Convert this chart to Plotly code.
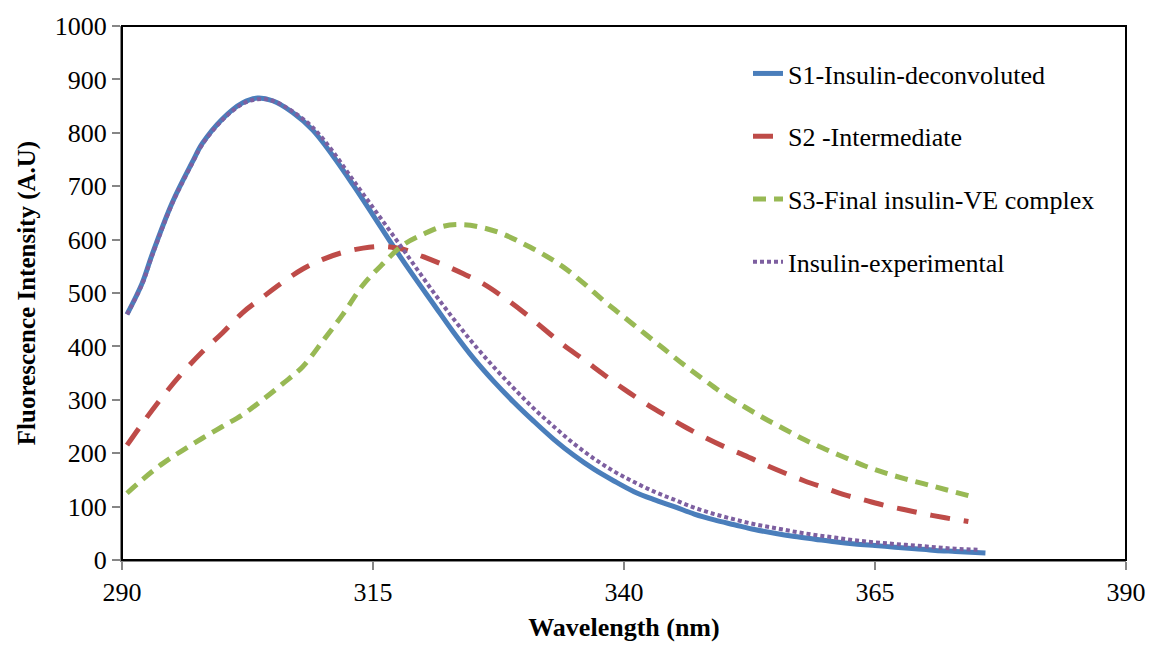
import plotly.graph_objects as go

# S1 - Insulin deconvoluted
s1_x = [290.5, 292, 293, 295, 297, 298, 300, 302, 303.5, 305, 307, 309, 311, 313, 315, 317, 319, 321, 323, 325,
        327, 329, 331, 333, 335, 337, 339, 341, 343, 345, 347, 349, 351, 353, 355, 357, 359, 361, 363, 365,
        367, 369, 371, 373, 376]
s1_y = [460, 518, 572, 669, 745, 780, 826, 856, 865, 860, 838, 805, 757, 703, 646, 588, 533, 480, 427, 378,
        335, 296, 260, 226, 196, 170, 148, 128, 113, 100, 86, 75, 66, 57, 50, 44, 39, 34, 30, 27,
        24, 21, 18, 16, 13]

# S2 - Intermediate
s2_x = [290.5, 292, 294, 296, 298, 300, 302, 304, 306, 308, 310, 312, 314, 316, 318, 320, 322, 324, 326, 328,
        330, 332, 334, 336, 338, 340, 342, 344, 346, 348, 350, 352, 354, 356, 358, 360, 362, 364, 366, 368,
        370, 372, 374.3]
s2_y = [215, 255, 305, 350, 390, 425, 463, 492, 520, 545, 563, 576, 584, 587, 582, 568, 553, 536, 517, 492,
        464, 433, 402, 375, 347, 320, 295, 272, 250, 230, 212, 196, 179, 163, 148, 135, 122, 112, 102, 94,
        86, 79, 72]

# S3 - Final insulin-VE complex
s3_x = [290.5, 292, 294, 296, 298, 300, 302, 304, 306, 308, 310, 312, 314, 316, 318, 320, 322, 324, 326, 328,
        330, 332, 334, 336, 338, 340, 342, 344, 346, 348, 350, 352, 354, 356, 358, 360, 362, 364, 366, 368,
        370, 372, 374.8]
s3_y = [125, 150, 180, 205, 228, 250, 272, 300, 330, 362, 410, 460, 515, 555, 590, 610, 625, 628, 622, 610,
        592, 572, 548, 518, 485, 455, 425, 395, 365, 337, 310, 287, 265, 245, 225, 208, 192, 176, 163, 152,
        142, 132, 118]

# Insulin experimental
ex_x = [290.5, 292, 293, 295, 297, 298, 300, 302, 303.5, 305, 307, 309, 311, 313, 315, 317, 319, 321, 323, 325,
        327, 329, 331, 333, 335, 337, 339, 341, 343, 345, 347, 349, 351, 353, 355, 357, 359, 361, 363, 365,
        367, 369, 371, 373, 375.5]
ex_y = [460, 516, 570, 667, 743, 778, 824, 854, 863, 860, 840, 810, 765, 712, 660, 608, 555, 502, 452, 405,
        362, 322, 284, 250, 218, 190, 166, 146, 128, 113, 98, 86, 76, 67, 60, 53, 47, 42, 37, 33,
        30, 27, 24, 21, 19]

x_ticks = [290, 315, 340, 365, 390]
y_ticks = [0, 100, 200, 300, 400, 500, 600, 700, 800, 900, 1000]

FONT = "Liberation Serif"

fig = go.Figure()
fig.add_trace(go.Scatter(x=s1_x, y=s1_y, mode="lines", name="S1-Insulin-deconvoluted", legendgroup="a",
                         line=dict(color="#4a7ebb", width=5, shape="spline")))
fig.add_trace(go.Scatter(x=s2_x, y=s2_y, mode="lines", name="S2 -Intermediate", legendgroup="b",
                         line=dict(color="#be4b48", width=5, dash="20px,14px", shape="spline")))
fig.add_trace(go.Scatter(x=s3_x, y=s3_y, mode="lines", name="S3-Final insulin-VE complex", legendgroup="c",
                         line=dict(color="#98b954", width=5, dash="13px,8px", shape="spline")))
fig.add_trace(go.Scatter(x=ex_x, y=ex_y, mode="lines", name="Insulin-experimental", legendgroup="d",
                         line=dict(color="#7d5fa0", width=4, dash="4px,3px", shape="spline")))

fig.update_layout(
    width=1150, height=646,
    margin=dict(l=122, r=24, t=26, b=86),
    paper_bgcolor="white", plot_bgcolor="white",
    font=dict(family=FONT, size=26, color="black"),
    showlegend=True,
    legend=dict(x=0.6235, y=0.955, xanchor="left", yanchor="top", tracegroupgap=26,
                font=dict(family=FONT, size=26, color="black"), bgcolor="rgba(0,0,0,0)"),
    xaxis=dict(range=[290, 390], tickvals=x_ticks, ticktext=[str(v) for v in x_ticks], automargin=False,
               showgrid=False, zeroline=False, showline=True, linecolor="#868686", linewidth=2,
               ticks="outside", ticklen=8, tickcolor="#868686", tickwidth=1.5,
               tickfont=dict(family=FONT, size=26),
               title=dict(text="<b>Wavelength (nm)</b>", font=dict(family=FONT, size=26), standoff=12)),
    yaxis=dict(range=[0, 1000], tickvals=y_ticks, ticktext=[str(v) for v in y_ticks], automargin=False,
               showgrid=False, zeroline=False, showline=True, linecolor="#868686", linewidth=2,
               ticks="outside", ticklen=8, tickcolor="#868686", tickwidth=1.5,
               tickfont=dict(family=FONT, size=26),
               title=dict(text="<b>Fluorescence Intensity (A.U)</b>", font=dict(family=FONT, size=25), standoff=12)),
)

fig.add_shape(type="rect", xref="paper", yref="paper", x0=0, y0=0, x1=1, y1=1,
              line=dict(color="black", width=2), fillcolor="rgba(0,0,0,0)", layer="above")

fig.write_html("out.html")
